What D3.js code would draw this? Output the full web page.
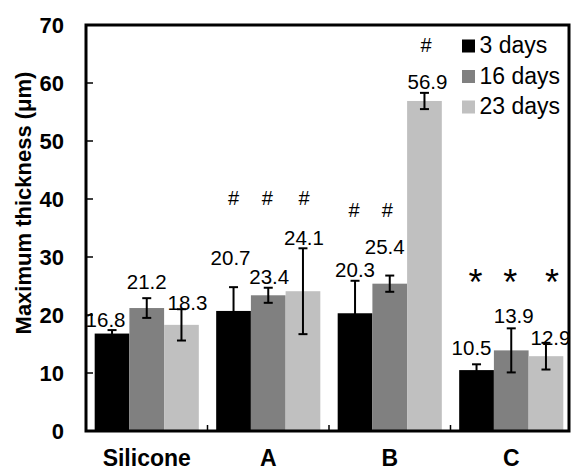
<!DOCTYPE html>
<html lang="en">

<head>
    <meta charset="UTF-8">
    <title>Maximum thickness</title>
    <style>
        body {
            margin: 0;
            background: #fff;
        }

        svg {
            display: block;
            font-family: "Liberation Sans", Arial, sans-serif;
        }

        .ytick text {
            font-weight: bold;
            font-size: 22px;
        }

        .xlabel {
            font-weight: bold;
            font-size: 23px;
            text-anchor: middle;
        }

        .value {
            font-size: 20.5px;
            text-anchor: middle;
        }

        .legend text {
            font-size: 23px;
        }
    </style>
    <script src="https://d3js.org/d3.v7.min.js"></script>
</head>

<body>
    <div id="graph"></div>
    <script>
        // data
        const categories = ["Silicone", "A", "B", "C"];
        const seriesNames = ["3 days", "16 days", "23 days"];
        const seriesColors = ["#000000", "#808080", "#c0c0c0"];
        const means = [
            [16.8, 21.2, 18.3],
            [20.7, 23.4, 24.1],
            [20.3, 25.4, 56.9],
            [10.5, 13.9, 12.9]
        ];
        const errors = [
            [0.6, 1.7, 2.7],
            [4.1, 1.3, 7.4],
            [5.6, 1.4, 1.4],
            [1.0, 3.8, 2.3]
        ];
        // significance marks and the level (in µm) where they sit
        const marks = [
            ["", "", ""],
            ["#", "#", "#"],
            ["#", "#", "#"],
            ["*", "*", "*"]
        ];
        const markLevels = [
            [0, 0, 0],
            [38.9, 38.9, 38.9],
            [36.9, 36.9, 65.4],
            [23.4, 23.4, 23.4]
        ];
        const yTicks = [0, 10, 20, 30, 40, 50, 60, 70];

        // hand placement of the value labels, [dx, dy] in px from the bar top
        const labelNudge = [
            [[-6.5, -6.3], [0, -18.7], [6, -15]],
            [[-3, -46], [1, -11], [1, -46]],
            [[0, -36.6], [-5, -29.7], [3, -11.7]],
            [[-5, -15], [2.5, -27.7], [4.5, -11]]
        ];
        const markNudge = [
            [0, 0, 0],
            [0, -1, 1],
            [-1, -2.5, 1.5],
            [-1, -1, 6]
        ];

        const width = 571;
        const height = 471;
        const plot = { left: 86, right: 569, top: 25, bottom: 431 };

        const svg = d3.select("#graph").append("svg")
            .attr("width", width)
            .attr("height", height);

        const x = d3.scaleBand()
            .domain(categories)
            .range([plot.left, 572])
            .paddingInner(0)
            .paddingOuter(0);

        const xs = d3.scaleBand()
            .domain(d3.range(seriesNames.length))
            .range([0, x.bandwidth()])
            .paddingOuter(0.25)
            .paddingInner(0);

        const y = d3.scaleLinear()
            .domain([0, 70])
            .range([plot.bottom, plot.top]);

        // flatten for drawing
        const bars = [];
        categories.forEach((c, i) => {
            seriesNames.forEach((s, j) => {
                bars.push({
                    cat: c, ci: i, si: j,
                    v: means[i][j], e: errors[i][j],
                    mark: marks[i][j], level: markLevels[i][j]
                });
            });
        });
        const cx = d => x(d.cat) + xs(d.si) + xs.bandwidth() / 2;

        // bars
        svg.append("g").selectAll("rect")
            .data(bars)
            .enter().append("rect")
            .attr("x", d => x(d.cat) + xs(d.si))
            .attr("y", d => y(d.v))
            .attr("width", xs.bandwidth())
            .attr("height", d => y(0) - y(d.v))
            .attr("fill", d => seriesColors[d.si]);

        // error bars
        const err = svg.append("g")
            .attr("stroke", "#000")
            .attr("stroke-width", 2);
        err.selectAll("line.v")
            .data(bars)
            .enter().append("line")
            .attr("x1", cx).attr("x2", cx)
            .attr("y1", d => y(d.v + d.e))
            .attr("y2", d => y(d.v - d.e));
        [1, -1].forEach(sign => {
            err.selectAll(null)
                .data(bars)
                .enter().append("line")
                .attr("x1", d => cx(d) - 4.5).attr("x2", d => cx(d) + 4.5)
                .attr("y1", d => y(d.v + sign * d.e))
                .attr("y2", d => y(d.v + sign * d.e));
        });

        // value labels
        svg.append("g").selectAll("text")
            .data(bars)
            .enter().append("text")
            .attr("class", "value")
            .attr("x", d => cx(d) + labelNudge[d.ci][d.si][0])
            .attr("y", d => y(d.v) + labelNudge[d.ci][d.si][1])
            .text(d => d.v.toFixed(1));

        // significance marks
        svg.append("g").selectAll("text")
            .data(bars.filter(d => d.mark))
            .enter().append("text")
            .attr("x", d => cx(d) + markNudge[d.ci][d.si])
            .attr("y", d => y(d.level))
            .attr("text-anchor", "middle")
            .style("font-size", d => d.mark === "*" ? "36px" : "20px")
            .text(d => d.mark);

        // y axis labels
        const yAxis = d3.axisLeft(y)
            .tickValues(yTicks)
            .tickSize(0)
            .tickPadding(22);
        svg.append("g")
            .attr("class", "ytick")
            .attr("transform", `translate(${plot.left}, 0)`)
            .call(yAxis)
            .call(g => g.select(".domain").remove())
            .call(g => g.selectAll("text").attr("fill", "#000"));

        // inside tick marks
        svg.append("g")
            .attr("stroke", "#000")
            .attr("stroke-width", 1.5)
            .selectAll("line")
            .data(yTicks.slice(1, -1))
            .enter().append("line")
            .attr("x1", plot.left).attr("x2", plot.left + 7)
            .attr("y1", d => y(d)).attr("y2", d => y(d));

        // x category separators
        svg.append("g")
            .attr("stroke", "#000")
            .attr("stroke-width", 1.5)
            .selectAll("line")
            .data(categories.slice(1))
            .enter().append("line")
            .attr("x1", d => x(d)).attr("x2", d => x(d))
            .attr("y1", plot.bottom).attr("y2", plot.bottom - 6);

        // x labels
        svg.append("g").selectAll("text")
            .data(categories)
            .enter().append("text")
            .attr("class", "xlabel")
            .attr("x", d => x(d) + x.bandwidth() / 2)
            .attr("y", 465.5)
            .text(d => d);

        // frame
        svg.append("rect")
            .attr("x", plot.left)
            .attr("y", plot.top)
            .attr("width", plot.right - plot.left)
            .attr("height", plot.bottom - plot.top)
            .attr("fill", "none")
            .attr("stroke", "#000")
            .attr("stroke-width", 3);

        // y title
        svg.append("text")
            .attr("transform", "translate(31, 203) rotate(-90)")
            .attr("text-anchor", "middle")
            .style("font-weight", "bold")
            .style("font-size", "22px")
            .text("Maximum thickness (\u03bcm)");

        // legend
        const legend = svg.append("g")
            .attr("class", "legend")
            .attr("transform", "translate(462, 0)");
        legend.selectAll("rect")
            .data(seriesNames)
            .enter().append("rect")
            .attr("x", 0)
            .attr("y", (d, i) => 39.5 + i * 30.5)
            .attr("width", 13)
            .attr("height", 13)
            .attr("fill", (d, i) => seriesColors[i]);
        legend.selectAll("text")
            .data(seriesNames)
            .enter().append("text")
            .attr("x", 17.5)
            .attr("y", (d, i) => 53 + i * 30.5)
            .text(d => d);
    </script>
</body>

</html>
